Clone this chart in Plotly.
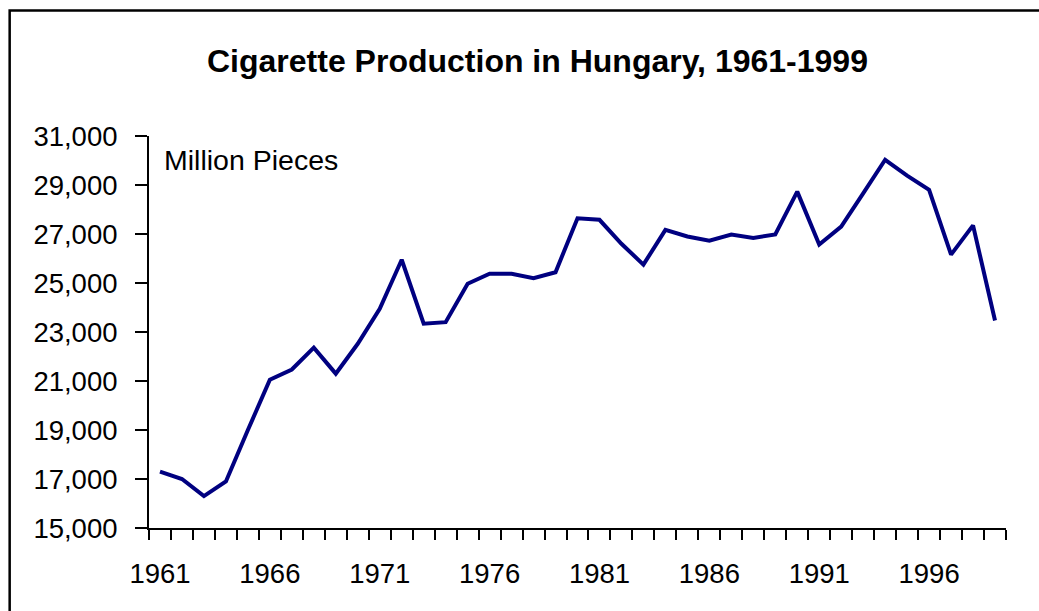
import plotly.graph_objects as go

years = list(range(1961, 2000))
production = [17300, 17000, 16300, 16900, 19000, 21050, 21470, 22360, 21300, 22520,
              23950, 25950, 23340, 23400, 24970, 25380, 25380, 25200, 25440, 27640,
              27580, 26600, 25750, 27170, 26900, 26730, 26980, 26840, 26980, 28730,
              26570, 27300, 28660, 30030, 29380, 28800, 26160, 27350, 23470]
label_years = [1961, 1966, 1971, 1976, 1981, 1986, 1991, 1996]
y_ticks = [15000, 17000, 19000, 21000, 23000, 25000, 27000, 29000, 31000]

W, H = 1039, 611
L, R = 148.5, 1006.5
T, B = 135.5, 527.7
pw, ph = R - L, B - T


def px(x):
    return (x - L) / pw


def py(y):
    return (B - y) / ph


font = "Liberation Sans, Arial, sans-serif"

fig = go.Figure()
fig.add_trace(go.Scatter(x=years, y=production, mode="lines",
                         line=dict(color="#000080", width=4),
                         hoverinfo="x+y", showlegend=False))

fig.update_layout(
    width=W, height=H,
    margin=dict(l=L, r=W - R, t=T, b=H - B, autoexpand=False),
    paper_bgcolor="white", plot_bgcolor="white",
    font=dict(family=font, size=27.5, color="black"),
    xaxis=dict(range=[years[0] - 0.5, years[-1] + 0.5], tickmode="array",
               tickvals=label_years, ticktext=[str(v) for v in label_years],
               ticks="", showline=True, linecolor="black", linewidth=2,
               showgrid=False, zeroline=False, ticklabelstandoff=20,
               tickfont=dict(size=27.5),
               minor=dict(ticks="outside", tick0=years[0] - 0.5, dtick=1,
                          ticklen=10, tickwidth=2, tickcolor="black", showgrid=False)),
    yaxis=dict(range=[y_ticks[0], y_ticks[-1]], tickmode="array", tickvals=y_ticks,
               tickformat=",", ticks="outside", ticklen=12, tickwidth=2,
               tickcolor="black", showline=True, linecolor="black", linewidth=2,
               showgrid=False, zeroline=False, ticklabelstandoff=12,
               tickfont=dict(size=27.5)),
    annotations=[
        dict(text="<b>Cigarette Production in Hungary, 1961-1999</b>", xref="paper", yref="paper",
             x=px(537.5), y=py(60), xanchor="center", yanchor="middle", showarrow=False,
             font=dict(size=32, family=font)),
        dict(text="Million Pieces", xref="paper", yref="paper",
             x=px(162), y=py(160), xanchor="left", yanchor="middle", showarrow=False,
             font=dict(size=28.5, family=font)),
    ],
    shapes=[
        dict(type="path", xref="paper", yref="paper",
             path=f"M {px(1045)} {py(10)} L {px(9)} {py(10)} L {px(9)} {py(620)}",
             line=dict(color="black", width=2.5)),
    ],
)

fig.write_html("out.html", config={"displayModeBar": False},
               post_script="document.body.style.margin='0';document.body.style.overflow='hidden';")
